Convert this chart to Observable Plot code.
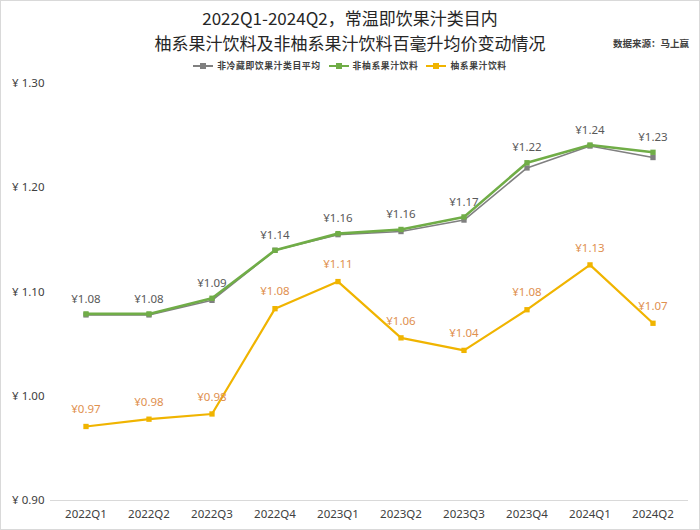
<!DOCTYPE html>
<html>
<head>
<meta charset="utf-8">
<script src="https://cdn.jsdelivr.net/npm/d3@7"></script>
<script src="https://cdn.jsdelivr.net/npm/@observablehq/plot@0.6"></script>
<style>
  html, body { margin: 0; padding: 0; background: #fff; }
  #wrap { position: relative; width: 700px; height: 530px; box-sizing: border-box; border: 1px solid #d9d9d9; overflow: hidden; font-family: "Noto Sans CJK SC", "Noto Sans", sans-serif; }
  #header { position: relative; height: 69px; }
  .t { position: absolute; left: 0; width: 698px; text-align: center; font-size: 17px; color: #262626; line-height: 20px; }
  #src { position: absolute; right: 10px; top: 35px; font-size: 9.5px; font-weight: bold; color: #404040; }
  #legend { position: absolute; top: 58px; left: 0; width: 698px; display: flex; justify-content: center; gap: 8px; font-size: 8.8px; font-weight: bold; color: #404040; letter-spacing: 0.6px; }
  .li { display: flex; align-items: center; gap: 4px; }
  .sw { position: relative; width: 20px; height: 8px; }
  .sw .ln { position: absolute; left: 0; right: 0; top: 3px; height: 2px; }
  .sw .mk { position: absolute; left: 7px; top: 1px; width: 6px; height: 6px; }
  svg { display: block; }
</style>
</head>
<body>
<div id="wrap">
  <div id="header">
    <div class="t" style="top:7px">2022Q1-2024Q2，常温即饮果汁类目内</div>
    <div class="t" style="top:32px">柚系果汁饮料及非柚系果汁饮料百毫升均价变动情况</div>
    <div id="src">数据来源：马上赢</div>
    <div id="legend"></div>
  </div>
  <div id="chart"></div>
</div>
<script>
const quarters = ["2022Q1","2022Q2","2022Q3","2022Q4","2023Q1","2023Q2","2023Q3","2023Q4","2024Q1","2024Q2"];
const seriesNames = ["非冷藏即饮果汁类目平均", "非柚系果汁饮料", "柚系果汁饮料"];
const categoryAvg = [1.078, 1.078, 1.092, 1.140, 1.155, 1.158, 1.169, 1.219, 1.240, 1.229];
const nonGrapefruit = [1.079, 1.079, 1.094, 1.140, 1.156, 1.160, 1.172, 1.224, 1.241, 1.234];
const grapefruit = [0.971, 0.978, 0.983, 1.084, 1.110, 1.056, 1.044, 1.083, 1.126, 1.070];
const yTicks = [0.90, 1.00, 1.10, 1.20, 1.30];
const colors = ["#808080", "#70AD47", "#F0B400"];
const labelColors = [null, "#595959", "#E0904F"];

const rows = [];
[categoryAvg, nonGrapefruit, grapefruit].forEach((vals, s) => {
  vals.forEach((v, i) => rows.push({series: seriesNames[s], q: quarters[i], v}));
});

// legend
const legend = document.getElementById("legend");
seriesNames.forEach((n, i) => {
  const d = document.createElement("div");
  d.className = "li";
  d.innerHTML = `<div class="sw"><div class="ln" style="background:${colors[i]}"></div><div class="mk" style="background:${colors[i]}"></div></div><span>${n}</span>`;
  legend.appendChild(d);
});

const fmt = d3.format(".2f");
const widths = [1.6, 2.6, 2.2];

const marks = [
  Plot.ruleY([0.90], {stroke: "#d9d9d9", strokeWidth: 1}),
];
seriesNames.forEach((n, s) => {
  const data = rows.filter(r => r.series === n);
  marks.push(Plot.line(data, {x: "q", y: "v", stroke: colors[s], strokeWidth: widths[s]}));
  marks.push(Plot.dot(data, {x: "q", y: "v", symbol: "square", r: 3, fill: colors[s], stroke: "none"}));
});
seriesNames.forEach((n, s) => {
  if (!labelColors[s]) return;
  const data = rows.filter(r => r.series === n);
  marks.push(Plot.text(data, {x: "q", y: "v", text: d => "¥" + fmt(d.v), dy: s === 1 ? -15 : -17, fill: labelColors[s], fontSize: 11.5, fontFamily: "Noto Sans, sans-serif"}));
});

const chart = Plot.plot({
  width: 698,
  height: 459,
  marginTop: 13,
  marginBottom: 29,
  marginLeft: 49,
  marginRight: 11,
  style: {fontFamily: "Noto Sans, sans-serif", fontSize: "11.5px", color: "#404040", background: "#fff"},
  x: {type: "band", domain: quarters, padding: 0, label: null, tickSize: 0, tickPadding: 9},
  y: {domain: [0.90, 1.30], ticks: yTicks, tickFormat: d => "¥ " + fmt(d), label: null, tickSize: 0, tickPadding: 6},
  marks
});
document.getElementById("chart").appendChild(chart);
</script>
</body>
</html>
